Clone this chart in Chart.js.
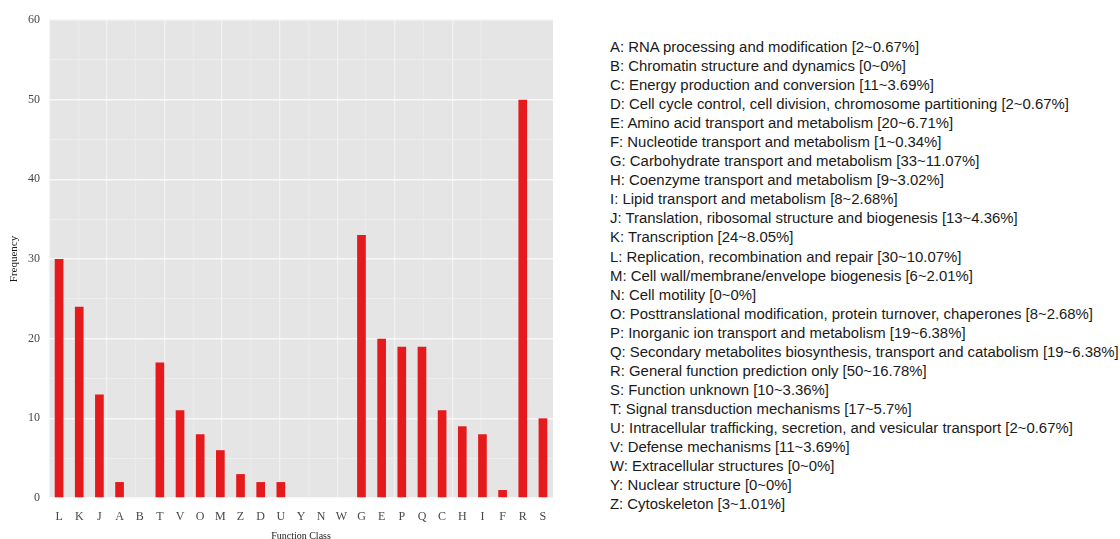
<!DOCTYPE html>
<html>
<head>
<meta charset="utf-8">
<script src="https://cdn.jsdelivr.net/npm/chart.js@4/dist/chart.umd.min.js"></script>
<style>
  html, body { margin: 0; padding: 0; background: #fff; overflow: hidden; width: 1120px; height: 539px; }
  #plot { position: absolute; left: 0; top: 0; width: 560px; height: 560px; }
  #classes {
    position: absolute; left: 610px; top: 38px; margin: 0; padding: 0; list-style: none;
    font-family: "Liberation Sans", Arial, sans-serif; font-size: 14.9px; line-height: 19.04px; color: #1a1a1a;
    white-space: nowrap;
  }
</style>
</head>
<body>
<div id="plot"><canvas id="c"></canvas></div>
<ul id="classes"></ul>
<script>
// COG function classes in plotting order and their gene counts
const classes = ['L','K','J','A','B','T','V','O','M','Z','D','U','Y','N','W','G','E','P','Q','C','H','I','F','R','S'];
const counts  = [30, 24, 13, 2, 0, 17, 11, 8, 6, 3, 2, 2, 0, 0, 0, 33, 20, 19, 19, 11, 9, 8, 1, 50, 10];
const yTicks  = [0, 10, 20, 30, 40, 50, 60];

// Description list shown beside the plot (alphabetical)
const descLetters = ['A','B','C','D','E','F','G','H','I','J','K','L','M','N','O','P','Q','R','S','T','U','V','W','Y','Z'];
const descNames = [
  'RNA processing and modification',
  'Chromatin structure and dynamics',
  'Energy production and conversion',
  'Cell cycle control, cell division, chromosome partitioning',
  'Amino acid transport and metabolism',
  'Nucleotide transport and metabolism',
  'Carbohydrate transport and metabolism',
  'Coenzyme transport and metabolism',
  'Lipid transport and metabolism',
  'Translation, ribosomal structure and biogenesis',
  'Transcription',
  'Replication, recombination and repair',
  'Cell wall/membrane/envelope biogenesis',
  'Cell motility',
  'Posttranslational modification, protein turnover, chaperones',
  'Inorganic ion transport and metabolism',
  'Secondary metabolites biosynthesis, transport and catabolism',
  'General function prediction only',
  'Function unknown',
  'Signal transduction mechanisms',
  'Intracellular trafficking, secretion, and vesicular transport',
  'Defense mechanisms',
  'Extracellular structures',
  'Nuclear structure',
  'Cytoskeleton'
];

const total = counts.reduce((a, b) => a + b, 0);
const list = document.getElementById('classes');
descLetters.forEach((ltr, i) => {
  const n = counts[classes.indexOf(ltr)];
  const pct = Number((n / total * 100).toFixed(2));
  const li = document.createElement('li');
  li.textContent = ltr + ': ' + descNames[i] + ' [' + n + '~' + pct + '%]';
  list.appendChild(li);
});

const serif = '"Liberation Serif", "Times New Roman", serif';
const tickGrey = '#474747';

// grey panel behind the plotting region
const panelBg = {
  id: 'panelBg',
  beforeDraw(chart) {
    const { ctx, chartArea: a } = chart;
    ctx.save();
    ctx.fillStyle = '#e5e5e5';
    ctx.fillRect(a.left, a.top, a.right - a.left, a.bottom - a.top);
    ctx.restore();
  }
};

new Chart(document.getElementById('c'), {
  type: 'bar',
  data: {
    labels: classes,
    datasets: [{
      data: counts,
      backgroundColor: '#e41a1c',
      borderWidth: 0,
      barPercentage: 0.43,
      categoryPercentage: 1.0,
      xAxisID: 'x'
    }]
  },
  options: {
    responsive: true,
    maintainAspectRatio: false,
    animation: false,
    layout: { padding: { top: 20, right: 7, left: 0, bottom: 0 } },
    plugins: { legend: { display: false }, tooltip: { enabled: false } },
    scales: {
      x: {
        position: 'bottom',
        grid: { display: false },
        border: { display: false },
        ticks: { color: tickGrey, font: { family: serif, size: 12 }, padding: 4, maxRotation: 0, autoSkip: false },
        title: { display: true, text: 'Function Class', color: '#1a1a1a', font: { family: serif, size: 10 }, padding: { top: 0, bottom: 18 } },
        afterFit(s) { s.height = 62; }
      },
      xg: {
        type: 'linear',
        position: 'top',
        min: 0,
        max: 16.49,
        ticks: { display: false, stepSize: 1 },
        border: { display: false },
        grid: {
          drawTicks: false,
          color(ctx) {
            const v = ctx.tick ? ctx.tick.value : 0;
            if (Math.abs(v - Math.round(v)) > 1e-6) return 'rgba(0,0,0,0)';
            return Math.round(v) % 2 === 0 ? '#f2f2f2' : '#eaeaea';
          },
          lineWidth: 1.2
        },
        afterFit(s) { s.height = 0; }
      },
      y: {
        min: 0,
        max: 60,
        border: { display: false },
        grid: {
          drawTicks: false,
          color(ctx) {
            const v = ctx.tick ? ctx.tick.value : 0;
            return v % 10 === 0 ? '#f8f8f8' : '#eeeeee';
          },
          lineWidth(ctx) {
            const v = ctx.tick ? ctx.tick.value : 0;
            return v % 10 === 0 ? 1.6 : 1.1;
          }
        },
        ticks: {
          stepSize: 5,
          padding: 9,
          color: tickGrey,
          font: { family: serif, size: 12 },
          callback(v) { return yTicks.includes(v) ? String(v) : ''; }
        },
        title: { display: true, text: 'Frequency', color: '#1a1a1a', font: { family: serif, size: 11 }, padding: { top: 8, bottom: 0 } },
        afterFit(s) { s.width = 49; }
      }
    }
  },
  plugins: [panelBg]
});
</script>
</body>
</html>
